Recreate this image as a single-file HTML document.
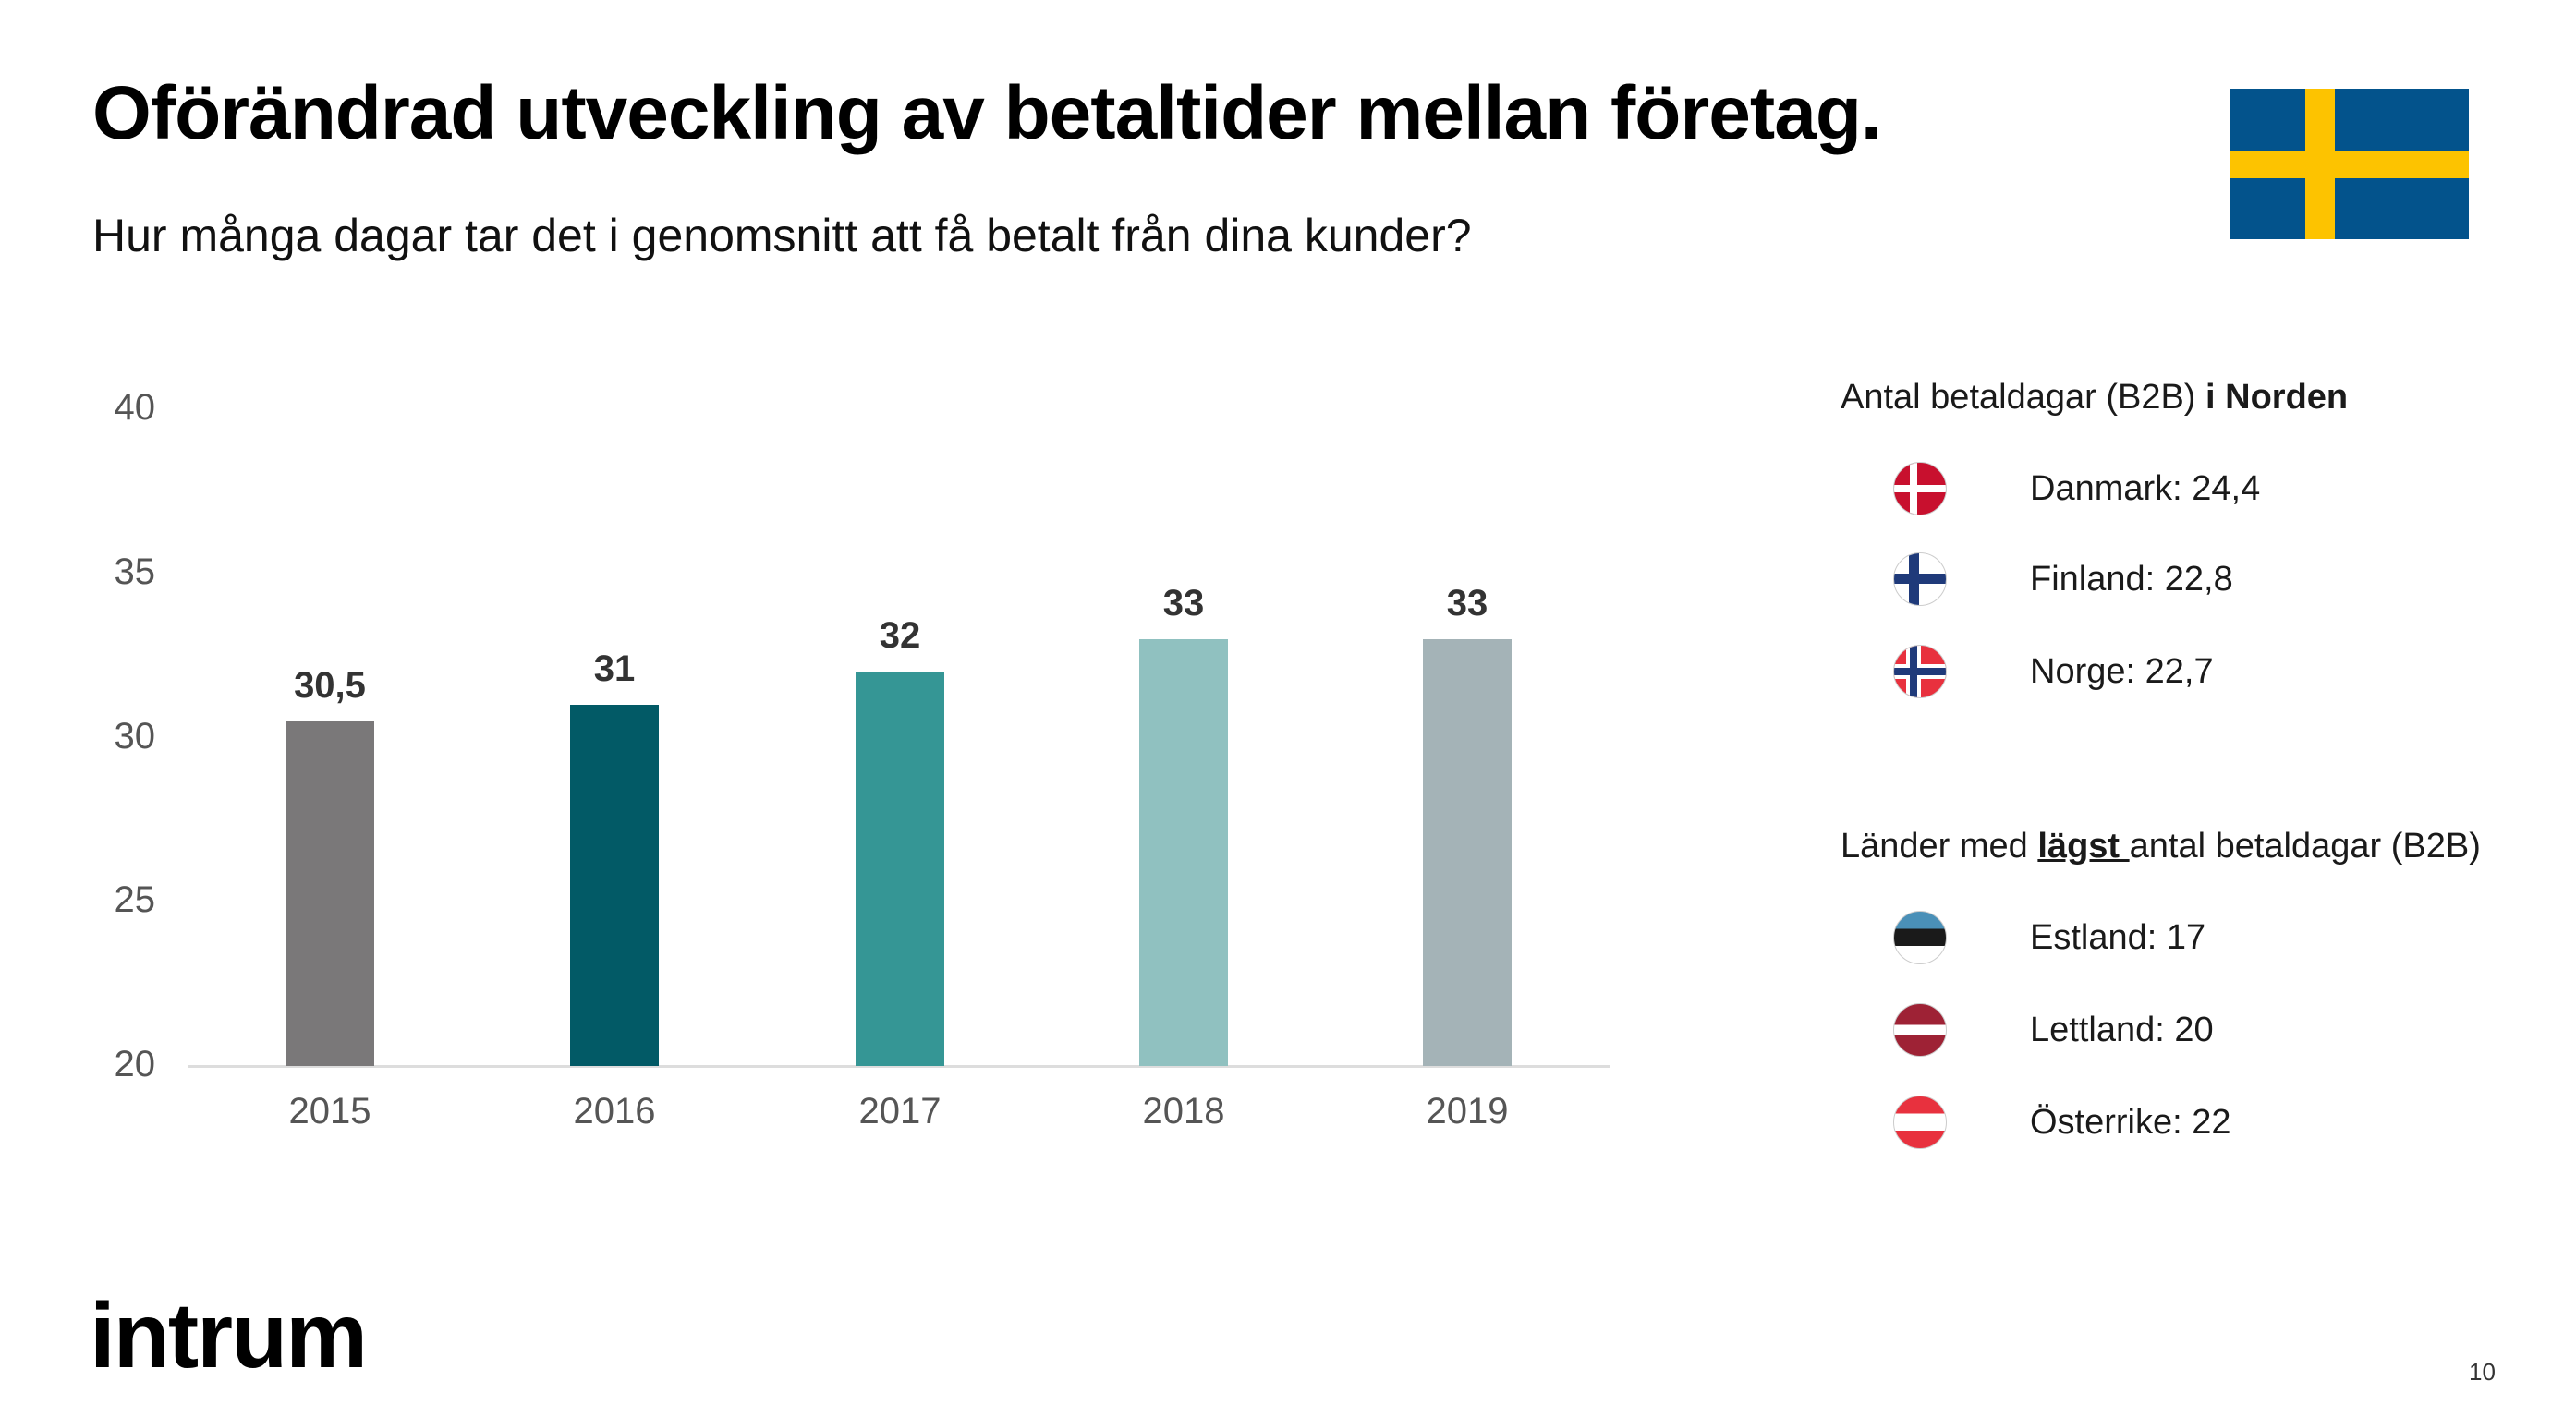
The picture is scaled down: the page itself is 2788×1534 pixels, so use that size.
<!DOCTYPE html>
<html><head><meta charset="utf-8"><style>
*{margin:0;padding:0}
body{width:2788px;height:1534px;background:#fff;position:relative;overflow:hidden;font-family:"Liberation Sans","DejaVu Sans",sans-serif;color:#1a1a1a}
.a{position:absolute;white-space:nowrap}
.yl{position:absolute;left:98px;width:70px;text-align:right;font-size:40px;color:#555;line-height:40px}
.xl{position:absolute;width:160px;text-align:center;font-size:40px;color:#555;top:1183px;line-height:40px}
.bar{position:absolute;width:96px;bottom:380px}
.vl{position:absolute;width:160px;text-align:center;font-size:40px;font-weight:bold;color:#333;line-height:40px}
.row{position:absolute;left:2197px;font-size:38px;line-height:40px}
.fl{position:absolute;left:2049px;width:56px;height:56px;border-radius:50%;overflow:hidden;border:1px solid #ccc}
</style></head><body>
<div class="a" style="left:100px;top:76px;font-size:82px;font-weight:bold;letter-spacing:-1px;color:#000">Oförändrad utveckling av betaltider mellan företag.</div>
<div class="a" style="left:100px;top:226px;font-size:50px;color:#111">Hur många dagar tar det i genomsnitt att få betalt från dina kunder?</div>
<div class="a" style="left:2413px;top:96px;width:259px;height:163px;background:#03538c">
 <div class="a" style="left:82px;top:0;width:32px;height:163px;background:#fdc300"></div>
 <div class="a" style="left:0;top:67px;width:259px;height:30px;background:#fdc300"></div>
</div>
<div class="yl" style="top:421px">40</div>
<div class="yl" style="top:599px">35</div>
<div class="yl" style="top:777px">30</div>
<div class="yl" style="top:954px">25</div>
<div class="yl" style="top:1132px">20</div>
<div class="a" style="left:204px;top:1153px;width:1538px;height:3px;background:#ddd"></div>
<div class="bar" style="left:309px;height:373px;background:#7a7879"></div>
<div class="bar" style="left:617px;height:391px;background:#025a66"></div>
<div class="bar" style="left:926px;height:427px;background:#359695"></div>
<div class="bar" style="left:1233px;height:462px;background:#90c1c0"></div>
<div class="bar" style="left:1540px;height:462px;background:#a4b3b7"></div>
<div class="vl" style="left:277px;top:722px">30,5</div>
<div class="vl" style="left:585px;top:704px">31</div>
<div class="vl" style="left:894px;top:668px">32</div>
<div class="vl" style="left:1201px;top:633px">33</div>
<div class="vl" style="left:1508px;top:633px">33</div>
<div class="xl" style="left:277px">2015</div>
<div class="xl" style="left:585px">2016</div>
<div class="xl" style="left:894px">2017</div>
<div class="xl" style="left:1201px">2018</div>
<div class="xl" style="left:1508px">2019</div>
<div class="a" style="left:1992px;top:410px;font-size:38px;line-height:40px">Antal betaldagar (B2B) <b>i Norden</b></div>
<div class="fl" style="top:500px;background:#c8102e"><div class="a" style="left:17px;top:0;width:8px;height:56px;background:#fff"></div><div class="a" style="left:0;top:24px;width:56px;height:8px;background:#fff"></div></div>
<div class="row" style="top:509px">Danmark: 24,4</div>
<div class="fl" style="top:598px;background:#fff"><div class="a" style="left:16px;top:0;width:11px;height:56px;background:#1f3a7a"></div><div class="a" style="left:0;top:22px;width:56px;height:11px;background:#1f3a7a"></div></div>
<div class="row" style="top:607px">Finland: 22,8</div>
<div class="fl" style="top:698px;background:#e8313e"><div class="a" style="left:13px;top:0;width:16px;height:56px;background:#fff"></div><div class="a" style="left:0;top:20px;width:56px;height:16px;background:#fff"></div><div class="a" style="left:17px;top:0;width:8px;height:56px;background:#1f3a7a"></div><div class="a" style="left:0;top:24px;width:56px;height:8px;background:#1f3a7a"></div></div>
<div class="row" style="top:707px">Norge: 22,7</div>
<div class="a" style="left:1992px;top:896px;font-size:38px;line-height:40px">Länder med <b><u>lägst </u></b>antal betaldagar (B2B)</div>
<div class="fl" style="top:986px;background:linear-gradient(#4a90b8 0 33%,#1a1a1a 33% 66%,#fff 66%)"></div>
<div class="row" style="top:995px">Estland: 17</div>
<div class="fl" style="top:1086px;background:linear-gradient(#9e2235 0 40%,#fff 40% 60%,#9e2235 60%)"></div>
<div class="row" style="top:1095px">Lettland: 20</div>
<div class="fl" style="top:1186px;background:linear-gradient(#e8313e 0 33%,#fff 33% 66%,#e8313e 66%)"></div>
<div class="row" style="top:1195px">Österrike: 22</div>
<div class="a" style="left:97px;top:1396px;font-size:100px;font-weight:bold;letter-spacing:-2px;color:#000;line-height:100px">intrum</div>
<div class="a" style="left:2672px;top:1470px;font-size:26px;color:#333">10</div>
</body></html>
